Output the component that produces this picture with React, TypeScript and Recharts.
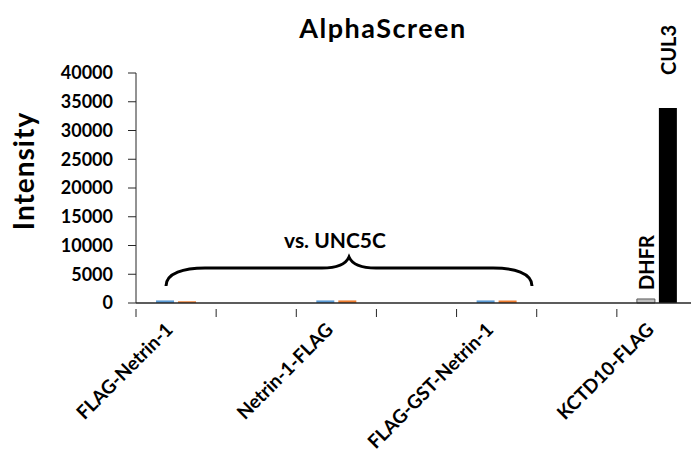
import React from "react"
import { BarChart, Bar, XAxis, YAxis, Cell, LabelList } from "recharts"

// values
const categories = ["FLAG-Netrin-1", "", "Netrin-1-FLAG", "", "FLAG-GST-Netrin-1", "", "KCTD10-FLAG"]
const firstValues = [450, null, 450, null, 450, null, 700]
const secondValues = [300, null, 450, null, 450, null, 33900]
const firstNotes = ["", "", "", "", "", "", "DHFR"]
const secondNotes = ["", "", "", "", "", "", "CUL3"]
const yTicks = [0, 5000, 10000, 15000, 20000, 25000, 30000, 35000, 40000]
const controlName = "KCTD10-FLAG"

const data = categories.map((name, i) => ({
  name,
  first: firstValues[i],
  second: secondValues[i],
  firstNote: firstNotes[i],
  secondNote: secondNotes[i],
}))

const FONT = "Lato, 'Open Sans', sans-serif"
const AXIS = "#262626"
const noteGap: Record<string, number> = { DHFR: 9, CUL3: 33 }

function CategoryTick(props: any) {
  const { x, y, payload } = props
  const half = payload.offset ?? 40
  const ax = x - 2
  const ay = y + 22
  return (
    <g>
      <line x1={x - half} y1={y} x2={x - half} y2={y + 8} stroke={AXIS} strokeWidth={1} />
      {payload.value ? (
        <text
          x={ax}
          y={ay}
          transform={`rotate(-45, ${ax}, ${ay})`}
          textAnchor="end"
          fontFamily={FONT}
          fontWeight={700}
          fontSize={19}
          fill="#000"
        >
          {payload.value}
        </text>
      ) : null}
    </g>
  )
}

function NoteLabel(props: any) {
  const { x, y, width, value } = props
  if (!value) return null
  const cx = x + width / 2
  const cy = y - (noteGap[value] ?? 8)
  return (
    <text
      x={cx}
      y={cy}
      transform={`rotate(-90, ${cx}, ${cy})`}
      textAnchor="start"
      dominantBaseline="central"
      fontFamily={FONT}
      fontWeight={700}
      fontSize={20}
      fill="#000"
    >
      {value}
    </text>
  )
}

export default function App() {
  return (
    <div style={{ position: "absolute", left: 0, top: 0, width: 691, height: 456, overflow: "hidden", background: "#fff" }}>
      <BarChart
        width={700}
        height={456}
        data={data}
        margin={{ top: 73, right: 3, bottom: 0, left: 0 }}
        barCategoryGap="25%"
        barGap={4}
      >
        <XAxis
          dataKey="name"
          height={153}
          interval={0}
          tickLine={false}
          tickMargin={0}
          axisLine={{ stroke: AXIS, strokeWidth: 1.5 }}
          tick={<CategoryTick />}
        />
        <YAxis
          width={136}
          domain={[0, 40000]}
          ticks={yTicks}
          interval={0}
          tickSize={8}
          tickMargin={15}
          axisLine={{ stroke: AXIS, strokeWidth: 1 }}
          tickLine={{ stroke: AXIS, strokeWidth: 1 }}
          tick={{ fontFamily: FONT, fontWeight: 700, fontSize: 18, fill: "#000" }}
        />
        <Bar dataKey="first" isAnimationActive={false}>
          {data.map((d, i) => (
            <Cell
              key={`first-${i}`}
              fill={d.name === controlName ? "#BFBFBF" : "#5B9BD5"}
              stroke={d.name === controlName ? "#595959" : "none"}
              strokeWidth={1}
            />
          ))}
          <LabelList dataKey="firstNote" content={<NoteLabel />} />
        </Bar>
        <Bar dataKey="second" isAnimationActive={false}>
          {data.map((d, i) => (
            <Cell key={`second-${i}`} fill={d.name === controlName ? "#000000" : "#ED7D31"} />
          ))}
          <LabelList dataKey="secondNote" content={<NoteLabel />} />
        </Bar>
      </BarChart>
      <svg
        width={691}
        height={456}
        style={{ position: "absolute", left: 0, top: 0, pointerEvents: "none" }}
      >
        <text x={383} y={38} textAnchor="middle" fontFamily={FONT} fontWeight={700} fontSize={27} letterSpacing={1.5} fill="#000">
          AlphaScreen
        </text>
        <text
          x={23}
          y={171}
          transform="rotate(-90, 23, 171)"
          textAnchor="middle"
          dominantBaseline="central"
          fontFamily={FONT}
          fontWeight={700}
          fontSize={28}
          letterSpacing={1}
          fill="#000"
        >
          Intensity
        </text>
        <text x={335} y={248} textAnchor="middle" fontFamily={FONT} fontWeight={700} fontSize={21} fill="#000">
          vs. UNC5C
        </text>
        <path
          d="M166,286 C166,273 184,268 205,268 L322,268 C339,268 346,264 349,257 C352,264 359,268 376,268 L493,268 C514,268 532,273 532,286"
          fill="none"
          stroke="#000"
          strokeWidth={3}
        />
      </svg>
    </div>
  )
}
